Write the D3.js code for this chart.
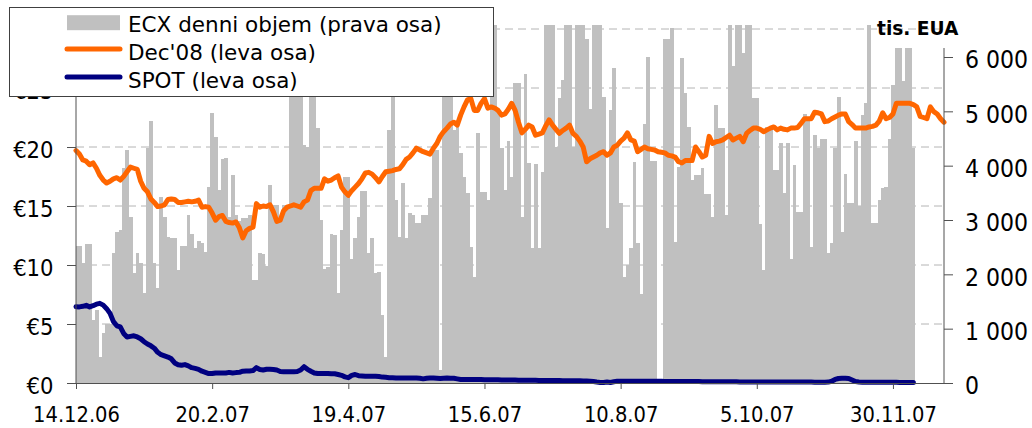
<!DOCTYPE html>
<html>
<head>
<meta charset="utf-8">
<script src="https://cdn.jsdelivr.net/npm/d3@7"></script>
<style>
	body { margin: 0; background: #fff; }
	svg { display: block; }
	.lbl { font-family: "DejaVu Sans Condensed", "DejaVu Sans", sans-serif; font-stretch: condensed; fill: #000; }
	.leg { font-family: "DejaVu Sans", sans-serif; font-size: 21.5px; fill: #000; }
</style>
</head>
<body>
<svg></svg>
<script>

// DATA

// ECX daily volume, tis. EUA (right axis)
var volume = [
	2520, 2520, 2200, 2550, 2550, 1160, 1340, 485, 915, 1085,
	1085, 2400, 2770, 2815, 3950, 4290, 3060, 2020, 2400, 2215,
	1650, 4320, 4830, 2200, 1740, 3430, 3060, 2690, 2660, 2660,
	2080, 2520, 2520, 3100, 2740, 2480, 2620, 2580, 2420, 3600,
	4975, 4530, 3550, 4130, 4150, 3060, 3830, 3090, 2980, 3030,
	3030, 3090, 1900, 1900, 2400, 2380, 2160, 3650, 3280, 3270,
	2970, 3270, 3280, 6200, 6200, 6000, 6300, 4380, 4350, 6200,
	6100, 4690, 3000, 2100, 2140, 2740, 2720, 1650, 2815, 3800,
	3800, 2290, 2660, 3060, 3540, 3540, 2390, 2660, 2020, 2040,
	1250, 485, 4660, 5600, 3370, 2690, 3690, 2660, 3120, 3100,
	2940, 2940, 3090, 3090, 3400, 4290, 4290, 240, 6000, 6100,
	6000, 4660, 4750, 4230, 3800, 3500, 2510, 1960, 4600, 3520,
	3520, 3370, 5300, 7000, 5020, 4320, 3550, 4460, 3800, 5530,
	5530, 3060, 5680, 4040, 2480, 4030, 2480, 3890, 7000, 7000,
	7000, 4350, 5240, 5580, 7000, 7000, 4350, 7000, 7000, 7000,
	6340, 5050, 7000, 7000, 7000, 5270, 2850, 5020, 5790, 4350,
	3310, 1960, 2170, 2480, 4070, 2580, 1640, 4770, 6000, 4090,
	4090, 0, 0, 6340, 6340, 6530, 2600, 3980, 5980, 5340,
	4720, 3740, 3830, 3830, 3950, 3480, 3480, 3060, 5120, 4690,
	4690, 3100, 7000, 5840, 7000, 7000, 6070, 7000, 7000, 5240,
	5240, 2930, 2080, 4720, 4720, 3920, 3920, 4420, 3490, 4420,
	2280, 4020, 3150, 3150, 4960, 4900, 2510, 4560, 4320, 4500,
	4500, 2400, 2580, 4320, 5270, 2780, 3840, 3320, 3320, 4460,
	3260, 4930, 5150, 7000, 2940, 2940, 3370, 3580, 3610, 4500,
	5490, 6160, 6160, 5550, 6160, 6160, 4320
]

// Dec'08 futures, EUR (left axis)
var dec08 = [
	19.7, 19.4, 18.9, 18.8, 18.5, 18.65, 18.2, 17.6, 17.2, 16.95,
	17.1, 17.3, 17.4, 17.2, 17.5, 17.9, 18.3, 18.2, 18.1, 17.1,
	16.5, 16.2, 15.6, 15.3, 14.95, 15.0, 15.1, 15.55, 15.6, 15.55,
	15.3, 15.3, 15.35, 15.4, 15.35, 15.4, 15.5, 14.9, 14.95, 14.9,
	14.4, 13.8, 14.1, 14.2, 13.7, 13.6, 13.55, 13.65, 13.15, 12.3,
	12.9, 13.1, 13.2, 15.2, 14.9, 15.0, 14.95, 15.1, 14.5, 13.7,
	13.8, 14.6, 14.9, 15.0, 15.1, 15.0, 14.9, 15.35, 15.5, 16.3,
	16.5, 16.5, 16.5, 17.3, 17.1, 17.2, 17.4, 17.55, 16.6, 16.2,
	15.9, 16.3, 16.6, 16.9, 17.3, 17.8, 17.85, 17.7, 17.4, 17.05,
	17.5, 17.9, 17.95, 18.0, 18.1, 18.15, 18.5, 18.95, 19.15, 19.5,
	19.9, 19.75, 19.6, 19.5, 19.4, 19.9, 20.3, 20.9, 21.3, 21.6,
	21.95, 22.1, 21.85, 22.7, 23.4, 24.0, 24.1, 23.1, 23.1, 23.7,
	24.1, 23.3, 23.4, 23.3, 23.1, 22.7, 22.8, 23.2, 23.7, 23.1,
	22.1, 21.2, 21.5, 21.85, 21.7, 21.0, 21.1, 21.2, 21.8, 22.3,
	21.85, 21.5, 21.15, 21.4, 21.6, 21.85, 21.15, 20.9, 20.5, 20.0,
	18.75, 19.0, 19.15, 19.3, 19.5, 19.6, 19.3, 19.5, 20.0, 20.15,
	20.5, 20.75, 21.2, 20.6, 20.5, 19.6, 19.8, 20.0, 19.85, 19.8,
	19.75, 19.6, 19.55, 19.5, 19.3, 19.25, 19.15, 18.75, 18.65, 18.85,
	18.85, 18.85, 20.0, 19.6, 19.15, 19.3, 20.9, 20.3, 20.45, 20.5,
	20.6, 20.8, 21.0, 20.6, 20.75, 20.9, 20.45, 21.15, 21.4, 21.6,
	21.6, 21.5, 21.3, 21.45, 21.6, 21.7, 21.45, 21.6, 21.5, 21.45,
	21.6, 21.6, 21.65, 22.0, 22.4, 22.4, 22.4, 22.95, 22.9, 22.8,
	22.15, 22.2, 22.4, 22.55, 22.7, 22.8, 22.8, 22.15, 21.9, 21.6,
	21.6, 21.6, 21.6, 21.7, 21.75, 21.85, 22.2, 22.9, 22.4, 22.5,
	22.8, 23.7, 23.7, 23.7, 23.7, 23.7, 23.6, 23.4, 22.6, 22.5,
	22.4, 23.4, 23.0, 22.8, 22.4, 22.1
]

// SPOT, EUR (left axis)
var spot = [
	6.47, 6.45, 6.5, 6.58, 6.45, 6.55, 6.68, 6.75, 6.6, 6.3,
	5.9, 5.2, 4.85, 4.75, 4.2, 3.9, 3.95, 4.0, 3.9, 3.75,
	3.5, 3.3, 3.15, 2.95, 2.6, 2.4, 2.3, 2.2, 2.05, 1.7,
	1.55, 1.5, 1.56, 1.45, 1.3, 1.24, 1.16, 1.0, 0.9, 0.8,
	0.8, 0.85, 0.85, 0.85, 0.85, 0.9, 0.85, 0.88, 0.9, 1.0,
	1.02, 1.02, 1.05, 1.3, 1.15, 1.1, 1.16, 1.16, 1.15, 1.1,
	0.98, 0.96, 0.95, 0.96, 0.96, 0.98, 1.1, 1.38, 1.16, 1.0,
	0.85, 0.8, 0.8, 0.8, 0.8, 0.78, 0.78, 0.72, 0.65, 0.52,
	0.45, 0.65, 0.72, 0.62, 0.6, 0.58, 0.57, 0.57, 0.57, 0.55,
	0.5, 0.48, 0.45, 0.45, 0.43, 0.43, 0.43, 0.43, 0.43, 0.42,
	0.42, 0.4, 0.35, 0.4, 0.42, 0.42, 0.4, 0.38, 0.4, 0.42,
	0.4, 0.4, 0.35, 0.3, 0.3, 0.3, 0.3, 0.3, 0.3, 0.3,
	0.28, 0.28, 0.27, 0.27, 0.27, 0.26, 0.26, 0.25, 0.25, 0.25,
	0.24, 0.24, 0.24, 0.23, 0.23, 0.23, 0.22, 0.22, 0.22, 0.22,
	0.21, 0.21, 0.21, 0.2, 0.2, 0.2, 0.2, 0.19, 0.19, 0.18,
	0.17, 0.15, 0.12, 0.08, 0.05, 0.04, 0.08, 0.04, 0.1, 0.14,
	0.15, 0.15, 0.15, 0.15, 0.15, 0.15, 0.14, 0.14, 0.14, 0.14,
	0.14, 0.14, 0.14, 0.13, 0.13, 0.13, 0.13, 0.12, 0.12, 0.12,
	0.12, 0.12, 0.12, 0.12, 0.11, 0.11, 0.11, 0.1, 0.1, 0.1,
	0.1, 0.1, 0.1, 0.1, 0.1, 0.09, 0.09, 0.09, 0.09, 0.09,
	0.09, 0.09, 0.08, 0.08, 0.08, 0.08, 0.08, 0.08, 0.08, 0.08,
	0.08, 0.08, 0.08, 0.08, 0.08, 0.08, 0.08, 0.07, 0.07, 0.07,
	0.07, 0.08, 0.15, 0.3, 0.38, 0.4, 0.4, 0.38, 0.25, 0.12,
	0.08, 0.07, 0.07, 0.07, 0.07, 0.07, 0.06, 0.06, 0.06, 0.06,
	0.06, 0.06, 0.05, 0.05, 0.05, 0.05, 0.05
]

var tickLabels = ["14.12.06", "20.2.07", "19.4.07", "15.6.07", "10.8.07", "5.10.07", "30.11.07"]
var tickEvery = 40
var leftTicks = [0, 5, 10, 15, 20, 25, 30]
var rightTicks = [0, 1000, 2000, 3000, 4000, 5000, 6000]

var legendItems = [
	{ name: "ECX denni objem (prava osa)", type: "bar", color: "#c0c0c0" },
	{ name: "Dec'08 (leva osa)", type: "line", color: "#ff6600" },
	{ name: "SPOT (leva osa)", type: "line", color: "#000080" }
]

// VIS

var width = 1032
var height = 428

var plot = { left: 76, right: 944, top: 25, bottom: 383 }

var svg = d3.select("svg")
	.attr("width", width)
	.attr("height", height)

var x = d3.scalePoint()
	.domain(d3.range(dec08.length))
	.range([plot.left, plot.right])

var yL = d3.scaleLinear().domain([0, 30]).range([plot.bottom, 29])
var yR = d3.scaleLinear().domain([0, 6000]).range([plot.bottom, 57])

svg.append("defs").append("clipPath")
	.attr("id", "plotclip")
	.append("rect")
	.attr("x", plot.left)
	.attr("y", plot.top)
	.attr("width", plot.right - plot.left)
	.attr("height", plot.bottom - plot.top)

// gridlines
svg.append("g")
	.selectAll("line")
	.data(leftTicks.filter(function(d) { return d > 0 }))
	.enter().append("line")
	.attr("x1", plot.left)
	.attr("x2", plot.right)
	.attr("y1", function(d) { return yL(d) })
	.attr("y2", function(d) { return yL(d) })
	.attr("stroke", "#b4b4b4")
	.attr("stroke-width", 1)
	.attr("stroke-dasharray", "8,5")

// bars
var bw = x.step()

svg.append("g")
	.attr("clip-path", "url(#plotclip)")
	.selectAll("rect")
	.data(volume)
	.enter().append("rect")
	.attr("x", function(d, i) { return x(i) - bw / 2 })
	.attr("width", bw + 0.4)
	.attr("y", function(d) { return yR(d) })
	.attr("height", function(d) { return plot.bottom - yR(d) })
	.attr("fill", "#c0c0c0")
	.attr("shape-rendering", "crispEdges")

// lines
var line = d3.line()
	.x(function(d, i) { return x(i) })
	.y(function(d) { return yL(d) })

svg.append("path")
	.datum(dec08)
	.attr("d", line)
	.attr("fill", "none")
	.attr("stroke", "#ff6600")
	.attr("stroke-width", 5)
	.attr("stroke-linejoin", "round")
	.attr("stroke-linecap", "round")

svg.append("path")
	.datum(spot)
	.attr("d", line)
	.attr("fill", "none")
	.attr("stroke", "#000080")
	.attr("stroke-width", 5)
	.attr("stroke-linejoin", "round")
	.attr("stroke-linecap", "round")

// AXES

var axisColor = "#505050"

var gL = svg.append("g")
	.attr("class", "lbl")
	.attr("transform", "translate(" + plot.left + ",0)")
	.call(d3.axisLeft(yL)
		.tickValues(leftTicks)
		.tickFormat(function(d) { return "€" + d })
		.tickSize(9)
		.tickSizeOuter(0)
		.tickPadding(13.5))

gL.select(".domain").remove()
gL.selectAll("line").attr("stroke", axisColor)
gL.selectAll("text")
	.attr("dy", "0.44em")
	.style("font-size", "23.5px")
	.attr("fill", "#000")

svg.append("line")
	.attr("x1", plot.left).attr("x2", plot.left)
	.attr("y1", plot.top).attr("y2", plot.bottom)
	.attr("stroke", axisColor)

var gR = svg.append("g")
	.attr("class", "lbl")
	.attr("transform", "translate(" + plot.right + ",0)")
	.call(d3.axisRight(yR)
		.tickValues(rightTicks)
		.tickFormat(function(d) { return d3.format(",")(d).replace(",", " ") })
		.tickSize(9)
		.tickSizeOuter(0)
		.tickPadding(12))

gR.select(".domain").remove()
gR.selectAll("line").attr("stroke", axisColor)
gR.selectAll("text")
	.attr("dy", "0.44em")
	.style("font-size", "24.5px")
	.attr("fill", "#000")

svg.append("line")
	.attr("x1", plot.right).attr("x2", plot.right)
	.attr("y1", 48).attr("y2", plot.bottom)
	.attr("stroke", axisColor)

var gB = svg.append("g")
	.attr("class", "lbl")
	.attr("transform", "translate(0," + plot.bottom + ")")
	.call(d3.axisBottom(x)
		.tickValues(d3.range(0, dec08.length, tickEvery))
		.tickFormat(function(d, i) { return tickLabels[i] })
		.tickSize(6)
		.tickSizeOuter(0))

gB.select(".domain")
	.attr("stroke", axisColor)
	.attr("d", "M" + plot.left + ",0.5H" + plot.right)
gB.selectAll("line").attr("stroke", axisColor)
gB.selectAll("text")
	.attr("y", 38.7)
	.attr("dy", 0)
	.style("font-size", "21.7px")
	.attr("fill", "#000")

svg.append("text")
	.attr("x", 877)
	.attr("y", 35)
	.style("font-family", "'DejaVu Sans', sans-serif")
	.style("font-weight", "bold")
	.style("font-size", "18.6px")
	.text("tis. EUA")

// LEGEND

var legend = svg.append("g")

legend.append("rect")
	.attr("x", 9.5)
	.attr("y", 7.5)
	.attr("width", 484)
	.attr("height", 89)
	.attr("fill", "#fff")
	.attr("stroke", "#404040")
	.attr("stroke-width", 1)

var rows = legend.selectAll(".row")
	.data(legendItems)
	.enter().append("g")
	.attr("class", "row")
	.attr("transform", function(d, i) { return "translate(0," + (31.7 + i * 27.9) + ")" })

rows.filter(function(d) { return d.type == "bar" })
	.append("rect")
	.attr("x", 67)
	.attr("y", -16.5)
	.attr("width", 53)
	.attr("height", 15)
	.attr("fill", function(d) { return d.color })

rows.filter(function(d) { return d.type == "line" })
	.append("line")
	.attr("x1", 67)
	.attr("x2", 120)
	.attr("y1", -10.5)
	.attr("y2", -10.5)
	.attr("stroke", function(d) { return d.color })
	.attr("stroke-width", 5)
	.attr("stroke-linecap", "round")

rows.append("text")
	.attr("class", "leg")
	.attr("x", 128)
	.attr("y", 0)
	.text(function(d) { return d.name })

</script>
</body>
</html>
